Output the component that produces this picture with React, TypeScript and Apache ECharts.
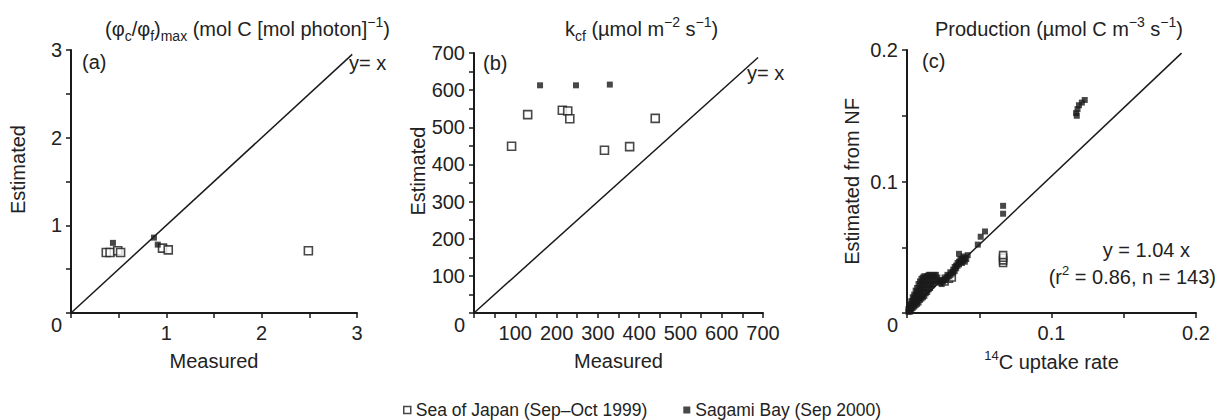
import React, { useEffect, useRef } from 'react';
import * as echarts from 'echarts';

const SEA = 'Sea of Japan (Sep–Oct 1999)';
const SAGAMI = 'Sagami Bay (Sep 2000)';

// Panel (a): (phi_c/phi_f)max
const aOpen = [[0.37, 0.69], [0.41, 0.69], [0.49, 0.71], [0.52, 0.69], [0.96, 0.74], [1.02, 0.72], [2.49, 0.71]];
const aFilled = [[0.44, 0.8], [0.87, 0.86], [0.91, 0.78]];
const aLine = [[0, 0], [2.95, 2.95]];
const aXTickLabels = [1, 2, 3];
const aYTickLabels = [0, 1, 2, 3];

// Panel (b): kcf
const bOpen = [[91, 449], [130, 534], [214, 546], [227, 544], [232, 523], [316, 438], [377, 448], [439, 524]];
const bFilled = [[160, 613], [247, 613], [329, 615]];
const bLine = [[0, 0], [688, 688]];
const bXTickLabels = [100, 200, 300, 400, 500, 600, 700];
const bYTickLabels = [0, 100, 200, 300, 400, 500, 600, 700];

// Panel (c): Production
const cFilled = [
  [0.001, 0.001], [0.001, 0.003], [0.002, 0.001], [0.002, 0.002], [0.002, 0.004], [0.002, 0.006],
  [0.003, 0.002], [0.003, 0.004], [0.003, 0.007], [0.003, 0.009],
  [0.004, 0.004], [0.004, 0.006], [0.004, 0.009], [0.004, 0.012],
  [0.005, 0.005], [0.005, 0.008], [0.005, 0.011], [0.005, 0.014],
  [0.006, 0.006], [0.006, 0.009], [0.006, 0.013], [0.006, 0.017],
  [0.007, 0.007], [0.007, 0.011], [0.007, 0.015], [0.007, 0.019],
  [0.008, 0.008], [0.008, 0.012], [0.008, 0.017], [0.008, 0.022],
  [0.009, 0.01], [0.009, 0.014], [0.009, 0.019], [0.009, 0.024],
  [0.01, 0.011], [0.01, 0.016], [0.01, 0.021], [0.01, 0.026],
  [0.011, 0.012], [0.011, 0.018], [0.011, 0.023], [0.011, 0.027],
  [0.012, 0.013], [0.012, 0.019], [0.012, 0.025], [0.012, 0.028],
  [0.013, 0.015], [0.013, 0.021], [0.013, 0.027],
  [0.014, 0.016], [0.014, 0.022], [0.014, 0.028],
  [0.015, 0.018], [0.015, 0.024], [0.015, 0.029],
  [0.016, 0.019], [0.016, 0.025], [0.016, 0.029],
  [0.017, 0.021], [0.017, 0.027],
  [0.018, 0.022], [0.018, 0.028],
  [0.019, 0.024], [0.019, 0.029],
  [0.02, 0.025], [0.02, 0.029],
  [0.021, 0.027],
  [0.022, 0.024], [0.023, 0.023], [0.024, 0.025], [0.024, 0.022], [0.025, 0.024], [0.026, 0.027],
  [0.026, 0.025], [0.027, 0.026], [0.028, 0.029], [0.028, 0.027], [0.029, 0.028], [0.03, 0.031],
  [0.03, 0.029], [0.031, 0.03], [0.032, 0.033], [0.032, 0.031], [0.033, 0.032], [0.033, 0.035],
  [0.034, 0.034], [0.034, 0.036], [0.035, 0.036], [0.035, 0.038], [0.036, 0.037], [0.036, 0.039],
  [0.036, 0.045], [0.037, 0.039], [0.037, 0.041], [0.038, 0.038], [0.038, 0.041], [0.039, 0.04],
  [0.039, 0.043], [0.04, 0.042], [0.04, 0.039], [0.041, 0.041], [0.042, 0.044],
  [0.049, 0.052], [0.051, 0.058], [0.054, 0.062],
  [0.0665, 0.0755], [0.0665, 0.0815],
  [0.1175, 0.15], [0.117, 0.152], [0.118, 0.155], [0.119, 0.158], [0.121, 0.16], [0.123, 0.162],
];
const cOpen = [[0.026, 0.024], [0.029, 0.026], [0.031, 0.027], [0.0665, 0.038], [0.0665, 0.04], [0.0665, 0.042], [0.0665, 0.044]];
const cLine = [[0, 0], [0.19, 0.1976]];
const cXTickLabels = [0.1, 0.2];
const cYTickLabels = [0, 0.1, 0.2];

const FONT = 'Liberation Sans, Arial, Helvetica, sans-serif';
const INK = '#1a1a1a';
const TEXT = '#222';

function labelFormatter(labels: number[], shiftZero: boolean) {
  return (v: number) => {
    const hit = labels.some((l) => Math.abs(l - v) < 1e-9);
    if (!hit) return '';
    if (Math.abs(v) < 1e-12) return shiftZero ? '{z|0}' : '';
    return String(v);
  };
}

function axis(gridIndex: number, min: number, max: number, interval: number, labels: number[], isY: boolean, name: string, nameGap: number, namePad?: number[]) {
  return {
    type: 'value',
    gridIndex,
    min,
    max,
    interval,
    name,
    nameLocation: 'middle',
    nameGap,
    nameTextStyle: {
      fontSize: 20,
      fontWeight: 'normal',
      color: TEXT,
      fontFamily: FONT,
      padding: namePad || 0,
      rich: {
        sup: { fontSize: 13, fontWeight: 'normal', fontFamily: FONT, color: TEXT, verticalAlign: 'top', lineHeight: 13 },
        base: { fontSize: 20, fontWeight: 'normal', fontFamily: FONT, color: TEXT, lineHeight: 26 },
      },
    },
    splitLine: { show: false },
    axisLine: { show: true, lineStyle: { color: INK, width: 2 } },
    axisTick: { show: true, length: 5, lineStyle: { color: INK, width: 1.5 } },
    axisLabel: {
      show: true,
      fontSize: 20,
      color: TEXT,
      fontFamily: FONT,
      margin: isY ? 9 : 10,
      showMinLabel: true,
      showMaxLabel: true,
      formatter: labelFormatter(labels, isY),
      rich: { z: { fontSize: 20, fontFamily: FONT, color: TEXT, padding: [24, 0, 0, 0] } },
    },
  };
}

function openSeries(name: string, idx: number, data: number[][], size = 8) {
  return {
    name,
    type: 'scatter',
    xAxisIndex: idx,
    yAxisIndex: idx,
    data,
    symbol: 'rect',
    symbolSize: size,
    itemStyle: { color: '#fff', borderColor: INK, borderWidth: 1.6 },
    z: 3,
  };
}
function filledSeries(name: string, idx: number, data: number[][], size = 6) {
  return {
    name,
    type: 'scatter',
    xAxisIndex: idx,
    yAxisIndex: idx,
    data,
    symbol: 'rect',
    symbolSize: size,
    itemStyle: { color: INK },
    z: 4,
  };
}
function lineSeries(idx: number, data: number[][]) {
  return {
    type: 'line',
    xAxisIndex: idx,
    yAxisIndex: idx,
    data,
    symbol: 'none',
    silent: true,
    lineStyle: { color: INK, width: 1.5 },
    z: 2,
  };
}

const titleRich = {
  b: { fontSize: 20, fontWeight: 'normal', fontFamily: FONT, color: TEXT, lineHeight: 28 },
  sub: { fontSize: 14, fontWeight: 'normal', fontFamily: FONT, color: TEXT, verticalAlign: 'bottom', lineHeight: 14 },
  sup: { fontSize: 14, fontWeight: 'normal', fontFamily: FONT, color: TEXT, verticalAlign: 'top', lineHeight: 14 },
};

function txt(text: string, x: number, y: number, align = 'left', rich?: any) {
  return {
    type: 'text',
    x,
    y,
    style: {
      text,
      fill: TEXT,
      font: `20px ${FONT}`,
      align,
      verticalAlign: 'middle',
      rich,
    },
    silent: true,
  };
}

export default function App() {
  const ref = useRef<HTMLDivElement>(null);
  useEffect(() => {
    if (!ref.current) return;
    const chart = echarts.init(ref.current, null, { renderer: 'svg' });
    const titleStyle = { rich: titleRich, fontFamily: FONT, fontWeight: 'normal', fontSize: 20, color: TEXT };
    const option: any = {
      animation: false,
      backgroundColor: '#fff',
      title: [
        {
          text: '{b|(φ}{sub|c}{b|/φ}{sub|f}{b|)}{sub|max}{b| (mol C [mol photon]}{sup|−1}{b|)}',
          left: 100,
          top: 10,
          textStyle: titleStyle,
        },
        {
          text: '{b|k}{sub|cf}{b| (µmol m}{sup|−2}{b| s}{sup|−1}{b|)}',
          left: 560,
          top: 10,
          textStyle: titleStyle,
        },
        {
          text: '{b|Production (µmol C m}{sup|−3}{b| s}{sup|−1}{b|)}',
          left: 930,
          top: 10,
          textStyle: titleStyle,
        },
      ],
      legend: {
        left: 398,
        top: 396,
        itemGap: 36,
        itemWidth: 7,
        itemHeight: 7,
        textStyle: { fontSize: 17.5, color: TEXT, fontFamily: FONT },
        data: [
          { name: SEA, icon: 'rect', itemStyle: { color: '#fff', borderColor: INK, borderWidth: 1.5 } },
          { name: SAGAMI, icon: 'rect', itemStyle: { color: INK } },
        ],
      },
      grid: [
        { left: 71, top: 50, width: 286, height: 263 },
        { left: 474, top: 53, width: 289, height: 260 },
        { left: 907, top: 50, width: 289, height: 263 },
      ],
      xAxis: [
        axis(0, 0, 3, 0.5, aXTickLabels, false, 'Measured', 38),
        axis(1, 0, 700, 50, bXTickLabels, false, 'Measured', 38),
        axis(2, 0, 0.2, 0.05, cXTickLabels, false, '{sup|14}{base|C uptake rate}', 36),
      ],
      yAxis: [
        axis(0, 0, 3, 0.5, aYTickLabels, true, 'Estimated', 43, [0, 0, 0, 24]),
        axis(1, 0, 700, 50, bYTickLabels, true, 'Estimated', 46, [0, 0, 0, 24]),
        axis(2, 0, 0.2, 0.05, cYTickLabels, true, 'Estimated from NF', 45),
      ],
      series: [
        lineSeries(0, aLine),
        openSeries(SEA, 0, aOpen),
        filledSeries(SAGAMI, 0, aFilled),
        lineSeries(1, bLine),
        openSeries(SEA, 1, bOpen),
        filledSeries(SAGAMI, 1, bFilled),
        lineSeries(2, cLine),
        openSeries(SEA, 2, cOpen, 7),
        filledSeries(SAGAMI, 2, cFilled, 6),
      ],
      graphic: [
        txt('(a)', 82, 62),
        txt('y= x', 349, 63),
        txt('(b)', 483, 63),
        txt('y= x', 747, 73),
        txt('(c)', 922, 61),
        txt('y = 1.04 x', 1190, 250, 'right'),
        txt('{t|(r}{s|2}{t| = 0.86, n = 143)}', 1216, 277, 'right', {
          t: { fontSize: 20, fontFamily: FONT, fill: TEXT, lineHeight: 26 },
          s: { fontSize: 13, fontFamily: FONT, fill: TEXT, verticalAlign: 'top', lineHeight: 13 },
        }),
      ],
    };
    chart.setOption(option);
    return () => chart.dispose();
  }, []);
  return (
    <div
      ref={ref}
      style={{ position: 'fixed', left: 0, top: 0, width: 1219, height: 420, background: '#fff' }}
    />
  );
}
